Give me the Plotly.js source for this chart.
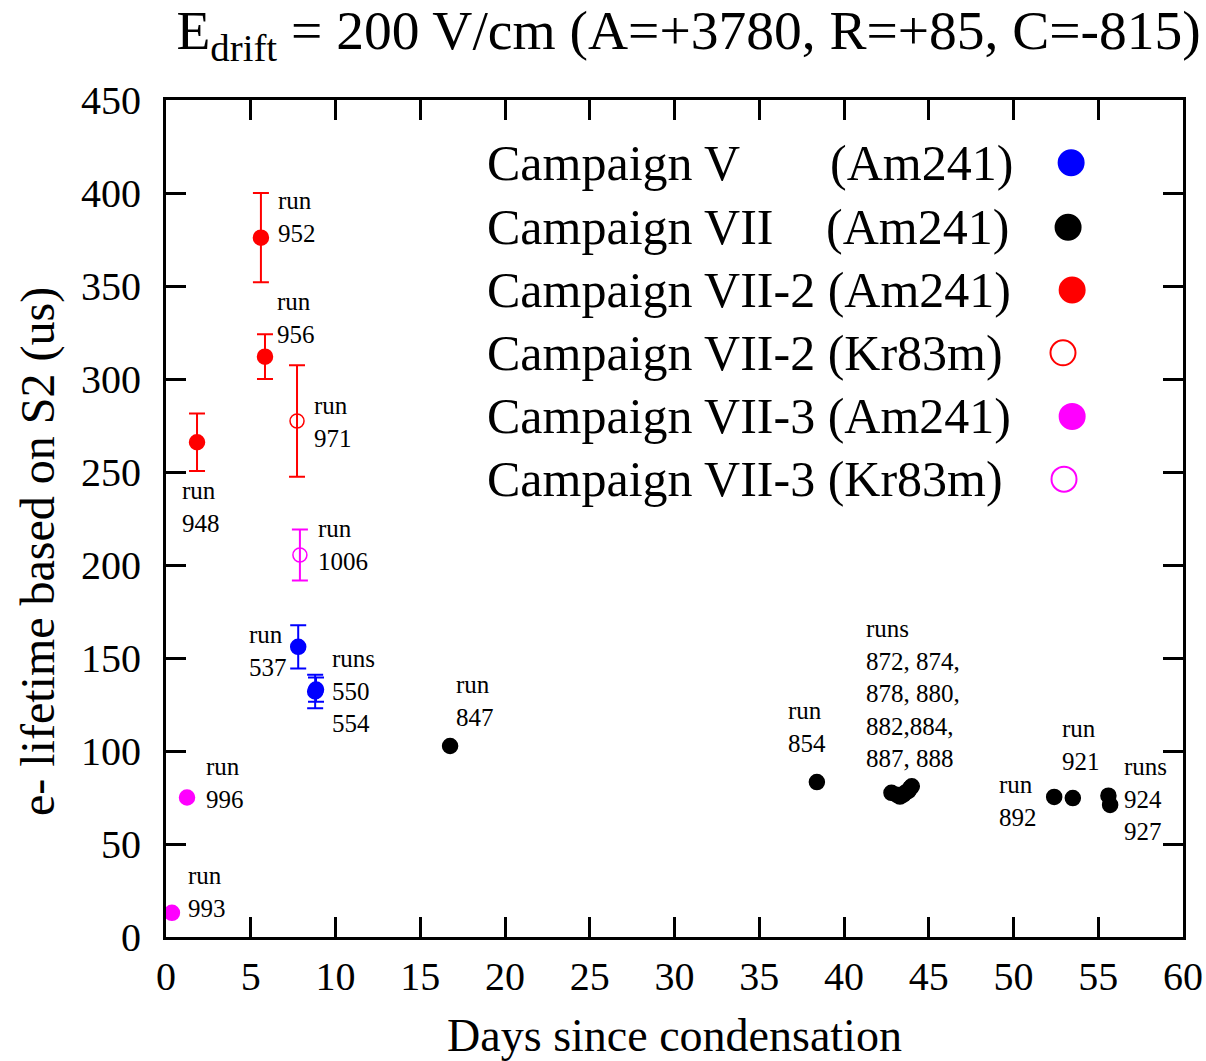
<!DOCTYPE html>
<html>
<head>
<meta charset="utf-8">
<script src="https://cdn.plot.ly/plotly-3.0.1.min.js"></script>
<style>html,body{margin:0;padding:0;background:#fff;}#chart{width:1206px;height:1061px;}</style>
</head>
<body>
<div id="chart"></div>
<script>
// ---- data ----
const campV_x = [7.8, 8.8, 8.85];
const campV_y = [156, 132, 133];
const campV_err = [11.6, 9, 6.5];

const campVII_x = [16.76, 38.4, 42.8, 43.1, 43.3, 43.5, 43.6, 43.8, 43.9, 44.0, 52.4, 53.5, 55.6, 55.7];
const campVII_y = [102.7, 83.3, 77.5, 76.5, 75.5, 76.5, 77.5, 78.5, 80, 81, 75.3, 74.7, 76, 71];

const campVII2Am_x = [1.83, 5.6, 5.84];
const campVII2Am_y = [266, 376, 312];
const campVII2Am_err = [15.5, 24, 12];

const campVII2Kr_x = [7.73];
const campVII2Kr_y = [277.4];
const campVII2Kr_err = [30];

const campVII3Am_x = [0.35, 1.24];
const campVII3Am_y = [13, 75];

const campVII3Kr_x = [7.9];
const campVII3Kr_y = [205.4];
const campVII3Kr_err = [13.7];

const runLabels = ["run<br>952", "run<br>956", "run<br>971", "run<br>948", "run<br>1006", "run<br>537",
  "runs<br>550<br>554", "run<br>847", "run<br>854", "runs<br>872, 874,<br>878, 880,<br>882,884,<br>887, 888",
  "run<br>892", "run<br>921", "runs<br>924<br>927", "run<br>996", "run<br>993"];
const runLabelX = [6.5, 6.45, 8.62, 0.85, 8.85, 4.8, 9.7, 17.0, 36.6, 41.2, 49.0, 52.75, 56.42, 2.25, 1.2];
const runLabelY = [387, 333, 277, 231, 211, 154, 132, 127, 113, 131, 73, 103, 74, 83, 24];

const legendNames = ["Campaign VII-2 (Am241)", "Campaign VII-2 (Kr83m)", "Campaign VII-3 (Am241)", "Campaign VII-3 (Kr83m)"];
const legendColors = ["#0000ff", "#000000", "#ff0000", "#ff0000", "#ff00ff", "#ff00ff"];
const legendSymbols = ["circle", "circle", "circle", "circle-open", "circle", "circle-open"];
const legendMarkX = [0.890, 0.887, 0.891, 0.882, 0.891, 0.883];
const legendMarkY = [0.925, 0.848, 0.773, 0.698, 0.622, 0.547];

const serif = "'Liberation Serif', 'Times New Roman', Times, serif";

function errTrace(x, y, err, color, symbol, size) {
  return {
    x: x, y: y, type: 'scatter', mode: 'markers',
    marker: {color: color, symbol: symbol, size: size, line: {color: color, width: 1.5}},
    error_y: err ? {type: 'data', array: err, visible: true, color: color, thickness: 2, width: 8} : undefined,
    showlegend: false, cliponaxis: false
  };
}

const traces = [
  errTrace(campVII_x, campVII_y, null, '#000000', 'circle', 15),
  errTrace(campV_x, campV_y, campV_err, '#0000ff', 'circle', 15),
  errTrace(campVII2Am_x, campVII2Am_y, campVII2Am_err, '#ff0000', 'circle', 15),
  errTrace(campVII2Kr_x, campVII2Kr_y, campVII2Kr_err, '#ff0000', 'circle-open', 14),
  errTrace(campVII3Am_x, campVII3Am_y, null, '#ff00ff', 'circle', 15),
  errTrace(campVII3Kr_x, campVII3Kr_y, campVII3Kr_err, '#ff00ff', 'circle-open', 14),
  {
    x: legendMarkX, y: legendMarkY, xaxis: 'x2', yaxis: 'y2', type: 'scatter', mode: 'markers',
    marker: {color: legendColors, symbol: legendSymbols, size: 25, line: {color: legendColors, width: 2}},
    showlegend: false, hoverinfo: 'skip'
  }
];

const annotations = [];
for (let i = 0; i < runLabels.length; i++) {
  annotations.push({
    x: runLabelX[i], y: runLabelY[i], xref: 'x', yref: 'y', text: runLabels[i],
    showarrow: false, xanchor: 'left', yanchor: 'middle', align: 'left',
    font: {family: serif, size: 25, color: '#000'}
  });
}
// legend texts
const legFont = {family: serif, size: 50, color: '#000'};
annotations.push({x: 0.3137, y: legendMarkY[0], xref: 'paper', yref: 'paper', text: 'Campaign V', showarrow: false, xanchor: 'left', yanchor: 'middle', font: legFont});
annotations.push({x: 0.651, y: legendMarkY[0], xref: 'paper', yref: 'paper', text: '(Am241)', showarrow: false, xanchor: 'left', yanchor: 'middle', font: legFont});
annotations.push({x: 0.3137, y: legendMarkY[1], xref: 'paper', yref: 'paper', text: 'Campaign VII', showarrow: false, xanchor: 'left', yanchor: 'middle', font: legFont});
annotations.push({x: 0.647, y: legendMarkY[1], xref: 'paper', yref: 'paper', text: '(Am241)', showarrow: false, xanchor: 'left', yanchor: 'middle', font: legFont});
for (let i = 0; i < legendNames.length; i++) {
  annotations.push({x: 0.3137, y: legendMarkY[i + 2], xref: 'paper', yref: 'paper', text: legendNames[i], showarrow: false, xanchor: 'left', yanchor: 'middle', font: legFont});
}
// y axis title (placed as in the reference, slightly below centre)
annotations.push({
  x: -0.126, y: 0.461, xref: 'paper', yref: 'paper', text: 'e- lifetime based on S2 (us)',
  textangle: -90, showarrow: false, xanchor: 'center', yanchor: 'middle',
  font: {family: serif, size: 48, color: '#000'}
});

const axisCommon = {
  showline: true, linewidth: 3, linecolor: '#000', mirror: 'ticks',
  ticks: 'inside', ticklen: 20, tickwidth: 3, tickcolor: '#000',
  showgrid: false, zeroline: false,
  tickfont: {family: serif, size: 40, color: '#000'}
};

const layout = {
  width: 1206, height: 1061,
  paper_bgcolor: '#fff', plot_bgcolor: '#fff',
  margin: {l: 166, r: 23, t: 100, b: 124},
  title: {
    text: 'E<sub>drift</sub> = 200 V/cm (A=+3780, R=+85, C=-815)',
    font: {family: serif, size: 55.5, color: '#000'},
    x: 0.571, xanchor: 'center', y: 0.972, yanchor: 'middle'
  },
  xaxis: Object.assign({}, axisCommon, {
    range: [0, 60], tickmode: 'linear', tick0: 0, dtick: 5,
    ticklabelstandoff: 2,
    title: {text: 'Days since condensation', font: {family: serif, size: 46, color: '#000'}, standoff: 22}
  }),
  yaxis: Object.assign({}, axisCommon, {
    range: [0, 450], tickmode: 'linear', tick0: 0, dtick: 50,
    ticklabelstandoff: 14
  }),
  xaxis2: {overlaying: 'x', anchor: 'y2', range: [0, 1], visible: false, fixedrange: true},
  yaxis2: {overlaying: 'y', anchor: 'x2', range: [0, 1], visible: false, fixedrange: true},
  annotations: annotations,
  showlegend: false
};

Plotly.newPlot('chart', traces, layout, {displayModeBar: false, staticPlot: true});
</script>
</body>
</html>
